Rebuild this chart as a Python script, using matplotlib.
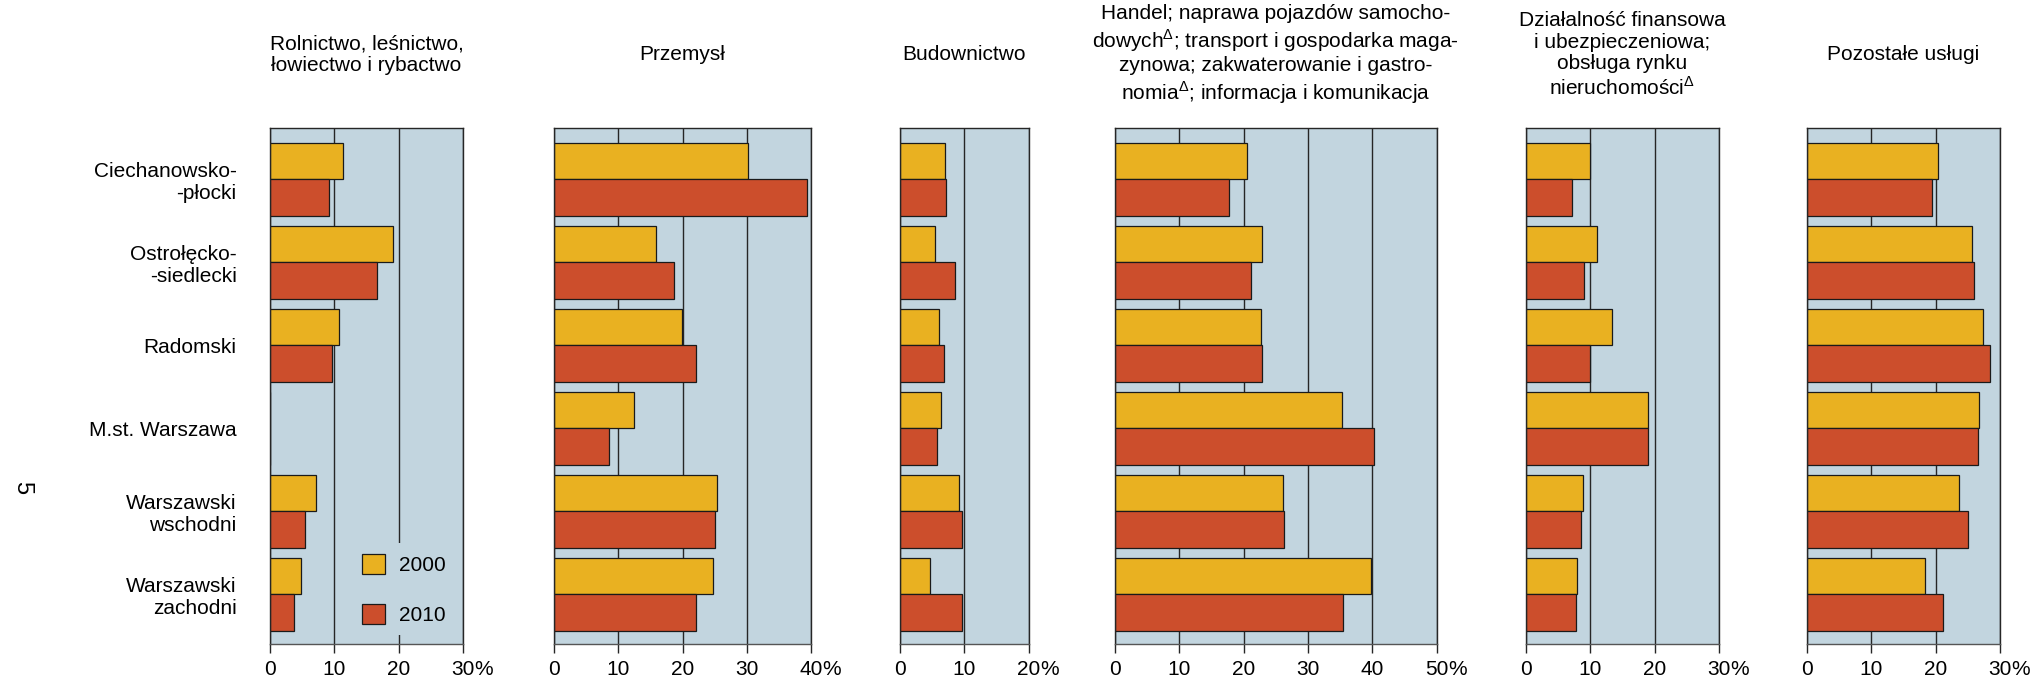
import numpy as np
import matplotlib.pyplot as plt
from matplotlib.patches import Patch

plt.rcParams['font.family'] = ['Liberation Sans', 'DejaVu Sans']
plt.rcParams['mathtext.fontset'] = 'custom'
plt.rcParams['mathtext.rm'] = 'Liberation Sans'

# data (% share)
regions = ['Ciechanowsko-\n-płocki', 'Ostrołęcko-\n-siedlecki', 'Radomski',
           'M.st. Warszawa', 'Warszawski\nwschodni', 'Warszawski\nzachodni']
sectors = ['Rolnictwo, leśnictwo,\nłowiectwo i rybactwo',
           'Przemysł',
           'Budownictwo',
           'Handel; naprawa pojazdów samocho-\ndowych$^{\\Delta}$; transport i gospodarka maga-\n'
           'zynowa; zakwaterowanie i gastro-\nnomia$^{\\Delta}$; informacja i komunikacja',
           'Działalność finansowa\ni ubezpieczeniowa;\nobsługa rynku\nnieruchomości$^{\\Delta}$',
           'Pozostałe usługi']
x_max = [30, 40, 20, 50, 30, 30]
years = ['2000', '2010']

rolnictwo_2000 = [11.4, 19.1, 10.7, 0, 7.1, 4.8]
rolnictwo_2010 = [9.1, 16.6, 9.7, 0, 5.5, 3.8]
przemysl_2000 = [30.2, 15.9, 19.9, 12.5, 25.3, 24.7]
przemysl_2010 = [39.3, 18.6, 22.1, 8.5, 25.0, 22.1]
budownictwo_2000 = [7.0, 5.4, 6.1, 6.4, 9.1, 4.6]
budownictwo_2010 = [7.1, 8.6, 6.8, 5.7, 9.6, 9.6]
handel_2000 = [20.6, 22.9, 22.7, 35.3, 26.1, 39.8]
handel_2010 = [17.8, 21.1, 22.9, 40.3, 26.3, 35.5]
finanse_2000 = [10.0, 11.1, 13.3, 19.0, 8.9, 8.0]
finanse_2010 = [7.1, 9.0, 10.0, 18.9, 8.5, 7.8]
uslugi_2000 = [20.3, 25.6, 27.4, 26.8, 23.6, 18.3]
uslugi_2010 = [19.5, 26.0, 28.4, 26.6, 25.1, 21.2]

vals_2000 = [rolnictwo_2000, przemysl_2000, budownictwo_2000, handel_2000, finanse_2000, uslugi_2000]
vals_2010 = [rolnictwo_2010, przemysl_2010, budownictwo_2010, handel_2010, finanse_2010, uslugi_2010]

c2000 = '#E9B121'
c2010 = '#CC4E2C'
bg = '#C2D5DF'
dark = '#262626'
fs = 15

W, H = 2038, 685
fig = plt.figure(figsize=(W / 100, H / 100), dpi=100)

lefts = [270, 554, 900, 1115, 1526, 1807]
px_per_pct = 6.43
ax_bottom = 1 - 644 / H
ax_height = (644 - 128) / H

y = np.arange(len(regions))
bh = 0.44
for i in range(6):
    w = x_max[i] * px_per_pct
    ax = fig.add_axes([lefts[i] / W, ax_bottom, w / W, ax_height])
    ax.set_facecolor(bg)
    ax.barh(y - bh / 2, vals_2000[i], height=bh, color=c2000, edgecolor='#1a1a1a', linewidth=0.9, zorder=2)
    ax.barh(y + bh / 2, vals_2010[i], height=bh, color=c2010, edgecolor='#1a1a1a', linewidth=0.9, zorder=2)
    ax.set_xlim(0, x_max[i])
    ax.set_ylim(5.6, -0.62)
    ax.set_xticks(range(0, x_max[i] + 1, 10))
    ax.set_xticklabels([str(t) for t in range(0, x_max[i] + 1, 10)], fontsize=fs)
    ax.grid(axis='x', color=dark, linewidth=1.0)
    ax.set_axisbelow(True)
    for s in ax.spines.values():
        s.set_color(dark)
        s.set_linewidth(1.0)
    ax.spines['bottom'].set_color('#555555')
    ax.tick_params(axis='x', length=6.5, width=1.0, color=dark, pad=5)
    ax.tick_params(axis='y', length=0)
    # percent sign hangs right of the last tick label
    ax.annotate('%', xy=(x_max[i], 0), xycoords=ax.get_xaxis_transform(),
                xytext=(8.3, -11.5), textcoords='offset points',
                ha='left', va='top', fontsize=fs)
    if i == 0:
        ax.set_yticks(y)
        ax.set_yticklabels(regions, fontsize=fs, linespacing=1.18)
        ax.tick_params(axis='y', pad=24)
        handles = [Patch(facecolor=c2000, edgecolor='#1a1a1a', linewidth=0.9),
                   Patch(facecolor=c2010, edgecolor='#1a1a1a', linewidth=0.9)]
        ax.legend(handles, years, loc='center', bbox_to_anchor=(0.692, 0.106),
                  frameon=True, facecolor=bg, edgecolor='none', framealpha=1,
                  fancybox=False, fontsize=fs, handlelength=1.1, handleheight=1.1,
                  labelspacing=1.4, handletextpad=0.67, borderpad=0.5)
    else:
        ax.set_yticks([])
    cx = (lefts[i] + w / 2) / W
    fig.text(cx, 1 - 55 / H, sectors[i], ha='center', va='center', fontsize=fs,
             linespacing=1.18, multialignment='center')

fig.text(22 / W, 1 - 488 / H, '5', rotation=-90, fontsize=17, ha='center', va='center')

fig.savefig('out.png', dpi=100)
